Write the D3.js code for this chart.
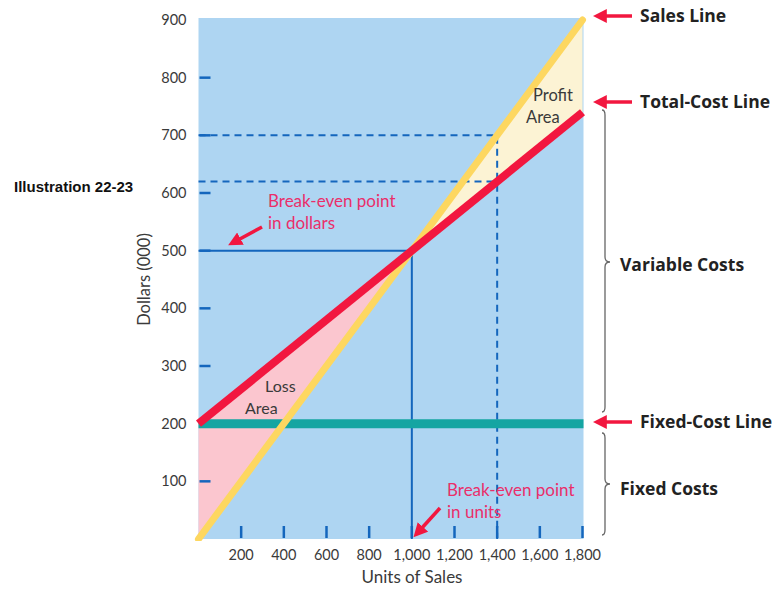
<!DOCTYPE html>
<html><head><meta charset="utf-8">
<script src="https://cdn.jsdelivr.net/npm/d3@7"></script>
<style>
body{margin:0;background:#fff;}
svg{display:block;}
</style></head>
<body>
<script>
// ---- data ----
const unitTicks = [200,400,600,800,1000,1200,1400,1600,1800];
const dollarTicks = [100,200,300,400,500,600,700,800,900];
const unitsDomain = [0,1800];
const dollarsDomain = [0,900];
const salesLine = [[0,0],[1800,900]];
const totalCostLine = [[0,200],[1800,740]];
const fixedCost = 200;
const breakEven = {units:1000, dollars:500};
const marginPoint = {units:1400, sales:700, cost:620};

const W = 776, H = 590;
const svg = d3.select("body").append("svg").attr("width",W).attr("height",H);
const x = d3.scaleLinear().domain(unitsDomain).range([198.5,582.5]);
const y = d3.scaleLinear().domain(dollarsDomain).range([539,20]);

const font = "'Lato','Open Sans',sans-serif";
const c = {bg:"#aed5f2", red:"#f2173f", yellow:"#fdd760", teal:"#15a5a2", pink:"#fbc6cf", cream:"#fcf3d4", blue:"#1466bd", pinkText:"#ea2e6a", text:"#3a3a3a"};

// background
svg.append("rect").attr("x",x(0)).attr("y",y(900)-2).attr("width",x(1800)-x(0)+1).attr("height",y(0)-y(900)+2).attr("fill",c.bg);

const line = d3.line().x(d=>x(d[0])).y(d=>y(d[1]));
const salesAt = u => 900*u/1800;
const costAt = u => 200 + (740-200)*u/1800;
// loss area
svg.append("path").attr("d", line([[0,0],[0,costAt(0)],[breakEven.units,breakEven.dollars]])+"Z").attr("fill",c.pink);
// profit area
svg.append("path").attr("d", line([[breakEven.units,breakEven.dollars],[1800,salesAt(1800)],[1800,costAt(1800)]])+"Z").attr("fill",c.cream);

// y ticks (inside short dashes)
svg.append("g").selectAll("line").data(dollarTicks.filter(d=>d!==900 && d!==200)).join("line")
  .attr("x1",x(0)+1).attr("x2",x(0)+12).attr("y1",d=>y(d)).attr("y2",d=>y(d))
  .attr("stroke",c.blue).attr("stroke-width",2.5);
// x ticks
svg.append("g").selectAll("line").data(unitTicks).join("line")
  .attr("x1",d=>x(d)).attr("x2",d=>x(d)).attr("y1",y(0)-13).attr("y2",y(0)-1)
  .attr("stroke",c.blue).attr("stroke-width",2.5);

// dashed guides
const dash = "7,5";
svg.append("path").attr("d",line([[0,marginPoint.sales],[marginPoint.units,marginPoint.sales],[marginPoint.units,0]]))
  .attr("fill","none").attr("stroke",c.blue).attr("stroke-width",2).attr("stroke-dasharray",dash);
svg.append("path").attr("d",line([[0,marginPoint.cost],[marginPoint.units,marginPoint.cost]]))
  .attr("fill","none").attr("stroke",c.blue).attr("stroke-width",2).attr("stroke-dasharray",dash);
// break-even guides
svg.append("path").attr("d",line([[breakEven.units,0],[breakEven.units,breakEven.dollars],[0,breakEven.dollars]]))
  .attr("fill","none").attr("stroke",c.blue).attr("stroke-width",2);

// fixed cost line
svg.append("line").attr("x1",x(0)).attr("x2",x(1800)+1).attr("y1",y(fixedCost)).attr("y2",y(fixedCost))
  .attr("stroke",c.teal).attr("stroke-width",9);
// sales line (clipped to plot bottom)
svg.append("clipPath").attr("id","plotclip").append("rect").attr("x",x(0)-5).attr("y",0).attr("width",x(1800)-x(0)+10).attr("height",y(0)+2);
svg.append("path").attr("d",line(salesLine)).attr("stroke",c.yellow).attr("stroke-width",7).attr("fill","none")
  .attr("stroke-linecap","round").attr("clip-path","url(#plotclip)");
// total cost line
svg.append("path").attr("d",line(totalCostLine)).attr("stroke",c.red).attr("stroke-width",8).attr("fill","none");

// axis tick labels
svg.append("g").selectAll("text").data(dollarTicks).join("text")
  .attr("x",x(0)-12).attr("y",d=>y(d)).attr("dy","0.35em").attr("text-anchor","end")
  .attr("font-family",font).attr("font-size",14.5).attr("fill",c.text).text(d=>d);
svg.append("g").selectAll("text").data(unitTicks).join("text")
  .attr("x",d=>x(d)).attr("y",y(0)+21).attr("text-anchor","middle")
  .attr("font-family",font).attr("font-size",14.5).attr("fill",c.text).text(d=>d3.format(",")(d));

// axis titles
svg.append("text").attr("transform",`translate(150,${(y(900)+y(0))/2}) rotate(-90)`).attr("text-anchor","middle")
  .attr("font-family",font).attr("font-size",16.5).attr("fill",c.text).text("Dollars (000)");
svg.append("text").attr("x",412).attr("y",583).attr("text-anchor","middle")
  .attr("font-family",font).attr("font-size",17).attr("fill",c.text).text("Units of Sales");

svg.append("text").attr("x",14).attr("y",192).attr("font-family","'Liberation Sans',Arial,sans-serif")
  .attr("font-weight","bold").attr("font-size",15).attr("fill","#111").text("Illustration 22-23");

// area labels
function multi(lines, xx, yy, col, size, anchor){
  const t = svg.append("text").attr("font-family",font).attr("font-size",size).attr("fill",col).attr("text-anchor",anchor||"start");
  lines.forEach((s,i)=>t.append("tspan").attr("x",xx[i]).attr("y",yy+i*22).text(s));
}
multi(["Loss","Area"],[265,245],392,c.text,16);
multi(["Profit","Area"],[533,526],101,c.text,16.5);
multi(["Break-even point","in dollars"],[268,268],207,c.pinkText,17);
multi(["Break-even point","in units"],[447,447],496,c.pinkText,17);

// arrows
const defs = svg.append("defs");
defs.append("marker").attr("id","ah").attr("viewBox","0 0 10 10").attr("refX",2).attr("refY",5)
  .attr("markerWidth",4).attr("markerHeight",4).attr("orient","auto")
  .append("path").attr("d","M0,0 L10,5 L0,10 Z").attr("fill",c.red);
function arrow(x1,y1,x2,y2){
  svg.append("line").attr("x1",x1).attr("y1",y1).attr("x2",x2).attr("y2",y2)
    .attr("stroke",c.red).attr("stroke-width",3.5).attr("marker-end","url(#ah)");
}
arrow(262,227,238,240);
arrow(440,508,421,529);
arrow(632,16,604,16);
arrow(632,102,604,102);
arrow(632,422,604,422);

// right labels
const boldFont = "'Open Sans','Lato',sans-serif";
function rlabel(s,xx,yy){
  svg.append("text").attr("x",xx).attr("y",yy).attr("dy","0.35em").attr("font-family",boldFont)
    .attr("font-weight","bold").attr("font-size",17.5).attr("fill","#222").text(s);
}
rlabel("Sales Line",640,16);
rlabel("Total-Cost Line",640,102);
rlabel("Fixed-Cost Line",640,422);
rlabel("Variable Costs",620,265);
rlabel("Fixed Costs",620,489);

// braces
function brace(xx,y1,y2,ym){
  const w=5;
  const p = `M${xx-3},${y1} Q${xx},${y1} ${xx},${y1+5} L${xx},${ym-5} Q${xx},${ym} ${xx+w},${ym} Q${xx},${ym} ${xx},${ym+5} L${xx},${y2-5} Q${xx},${y2} ${xx-3},${y2}`;
  svg.append("path").attr("d",p).attr("fill","none").attr("stroke","#666").attr("stroke-width",1.3);
}
brace(605,110,412,262);
brace(605,433,535,484);
</script>
</body></html>
